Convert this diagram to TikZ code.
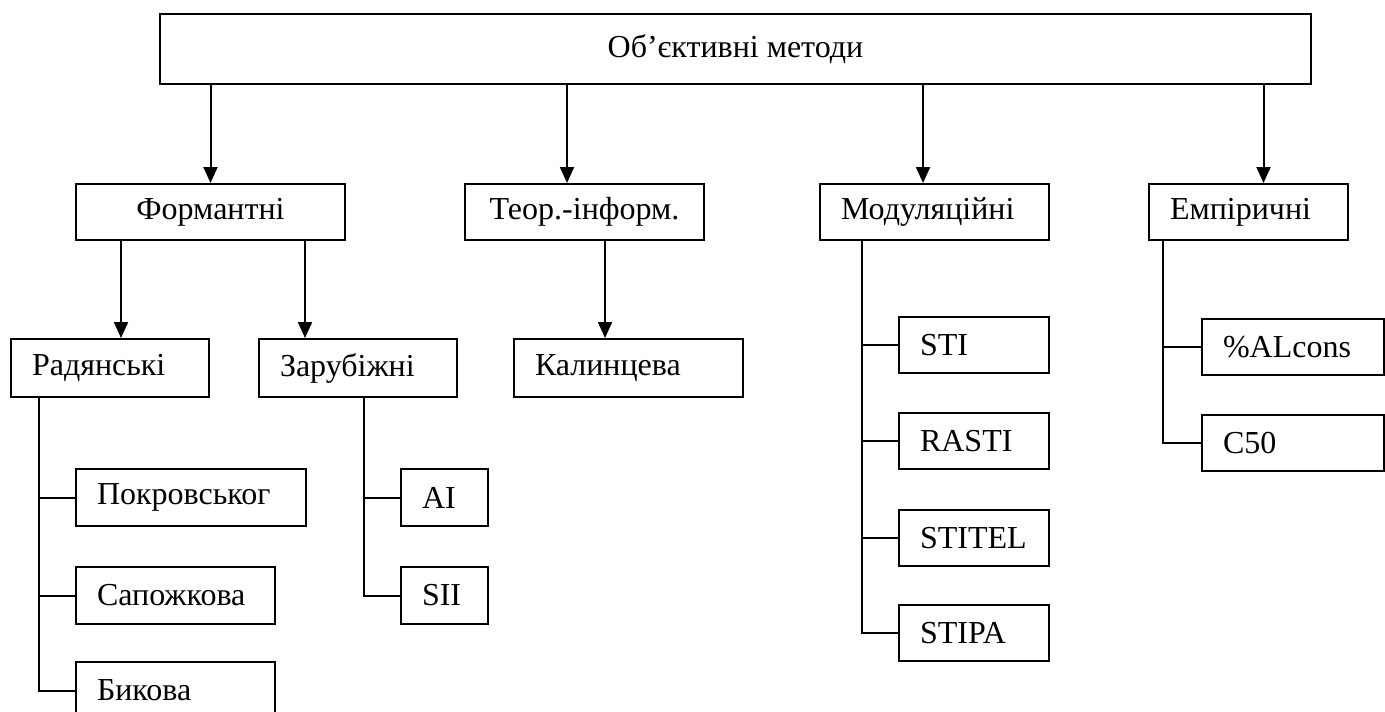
\documentclass[tikz,border=0pt]{standalone}
\usepackage{fontspec}
\setmainfont{Liberation Serif}
\usetikzlibrary{arrows.meta}

\begin{document}
\begin{tikzpicture}[x=0.75pt,y=0.75pt,yscale=-1,xscale=1,
  blok/.style={draw, line width=1.5pt, anchor=north west, inner xsep=15.75pt, inner ysep=0pt, align=flush left, font=\fontsize{24}{28}\selectfont},
  blokc/.style={blok, align=flush center},
  strilka/.style={-{Triangle[width=10.5pt,length=12pt]}, line width=1.5pt},
  liniya/.style={line width=1.5pt}]
\useasboundingbox (0,0) rectangle (1385,711);

% Text Node
\node [blokc, text width=831.75pt, minimum height=52.5pt] (obiekt) at (159,13) {Об’єктивні методи};
% Text Node
\node [blokc, text width=170.25pt, minimum height=42pt] (formant) at (75,183) {Формантні};
% Text Node
\node [blokc, text width=147.75pt, minimum height=42pt] (teor) at (464,183) {Теор.-інформ.};
% Text Node
\node [blok, text width=140.25pt, minimum height=42pt] (modul) at (819,183) {Модуляційні};
% Text Node
\node [blok, text width=117.75pt, minimum height=42pt] (empir) at (1148,183) {Емпіричні};
% Text Node
\node [blok, text width=117pt, minimum height=43.5pt] (radyanski) at (10,338) {Радянські};
% Text Node
\node [blok, text width=117pt, minimum height=43.5pt] (zarubizhni) at (258,338) {Зарубіжні};
% Text Node
\node [blok, text width=140.25pt, minimum height=43.5pt] (kalyntseva) at (513,338) {Калинцева};
% Text Node
\node [blok, text width=141pt, minimum height=42.75pt] (pokrovskoho) at (75,468) {Покровськог};
% Text Node
\node [blok, text width=117.75pt, minimum height=42.75pt] (sapozhkova) at (75,566) {Сапожкова};
% Text Node
\node [blok, text width=117.75pt, minimum height=42.75pt] (bykova) at (75,661) {Бикова};
% Text Node
\node [blok, text width=33.75pt, minimum height=42.75pt] (ai) at (400,468) {AI};
% Text Node
\node [blok, text width=33.75pt, minimum height=42.75pt] (sii) at (400,566) {SII};
% Text Node
\node [blok, text width=81pt, minimum height=42pt] (sti) at (898,316) {STI};
% Text Node
\node [blok, text width=81pt, minimum height=42pt] (rasti) at (898,412) {RASTI};
% Text Node
\node [blok, text width=81pt, minimum height=42pt] (stitel) at (898,509) {STITEL};
% Text Node
\node [blok, text width=81pt, minimum height=42pt] (stipa) at (898,604) {STIPA};
% Text Node
\node [blok, text width=105pt, minimum height=42pt] (alcons) at (1201,318) {\%ALcons};
% Text Node
\node [blok, text width=105pt, minimum height=42pt] (c50) at (1201,414) {C50};

%Arrows from the top box
\coordinate (s1) at (formant.north);
\coordinate (s2) at ([xshift=-13.1pt]teor.north);
\coordinate (s3) at ([xshift=-8.6pt]modul.north);
\coordinate (s4) at ([xshift=11.25pt]empir.north);
\draw [strilka] (s1 |- obiekt.south) -- (s1);
\draw [strilka] (s2 |- obiekt.south) -- (s2);
\draw [strilka] (s3 |- obiekt.south) -- (s3);
\draw [strilka] (s4 |- obiekt.south) -- (s4);

%Arrows to the third row
\coordinate (f1) at ([xshift=34.5pt]formant.south west);
\coordinate (f2) at ([xshift=-30.75pt]formant.south east);
\coordinate (t1) at ([xshift=15.4pt]teor.south);
\draw [strilka] (f1) -- (f1 |- radyanski.north);
\draw [strilka] (f2) -- (f2 |- zarubizhni.north);
\draw [strilka] (t1) -- (t1 |- kalyntseva.north);

%Straight Lines: Радянські
\coordinate (r0) at ([xshift=21.75pt]radyanski.south west);
\draw [liniya] (r0) |- (bykova.west);
\draw [liniya] (r0 |- pokrovskoho.west) -- (pokrovskoho.west);
\draw [liniya] (r0 |- sapozhkova.west) -- (sapozhkova.west);

%Straight Lines: Зарубіжні
\coordinate (z0) at ([xshift=79.5pt]zarubizhni.south west);
\draw [liniya] (z0) |- (sii.west);
\draw [liniya] (z0 |- ai.west) -- (ai.west);

%Straight Lines: Модуляційні
\coordinate (m0) at ([xshift=32.25pt]modul.south west);
\draw [liniya] (m0) |- (stipa.west);
\draw [liniya] (m0 |- sti.west) -- (sti.west);
\draw [liniya] (m0 |- rasti.west) -- (rasti.west);
\draw [liniya] (m0 |- stitel.west) -- (stitel.west);

%Straight Lines: Емпіричні
\coordinate (e0) at ([xshift=11.25pt]empir.south west);
\draw [liniya] (e0) |- (c50.west);
\draw [liniya] (e0 |- alcons.west) -- (alcons.west);

\end{tikzpicture}
\end{document}
